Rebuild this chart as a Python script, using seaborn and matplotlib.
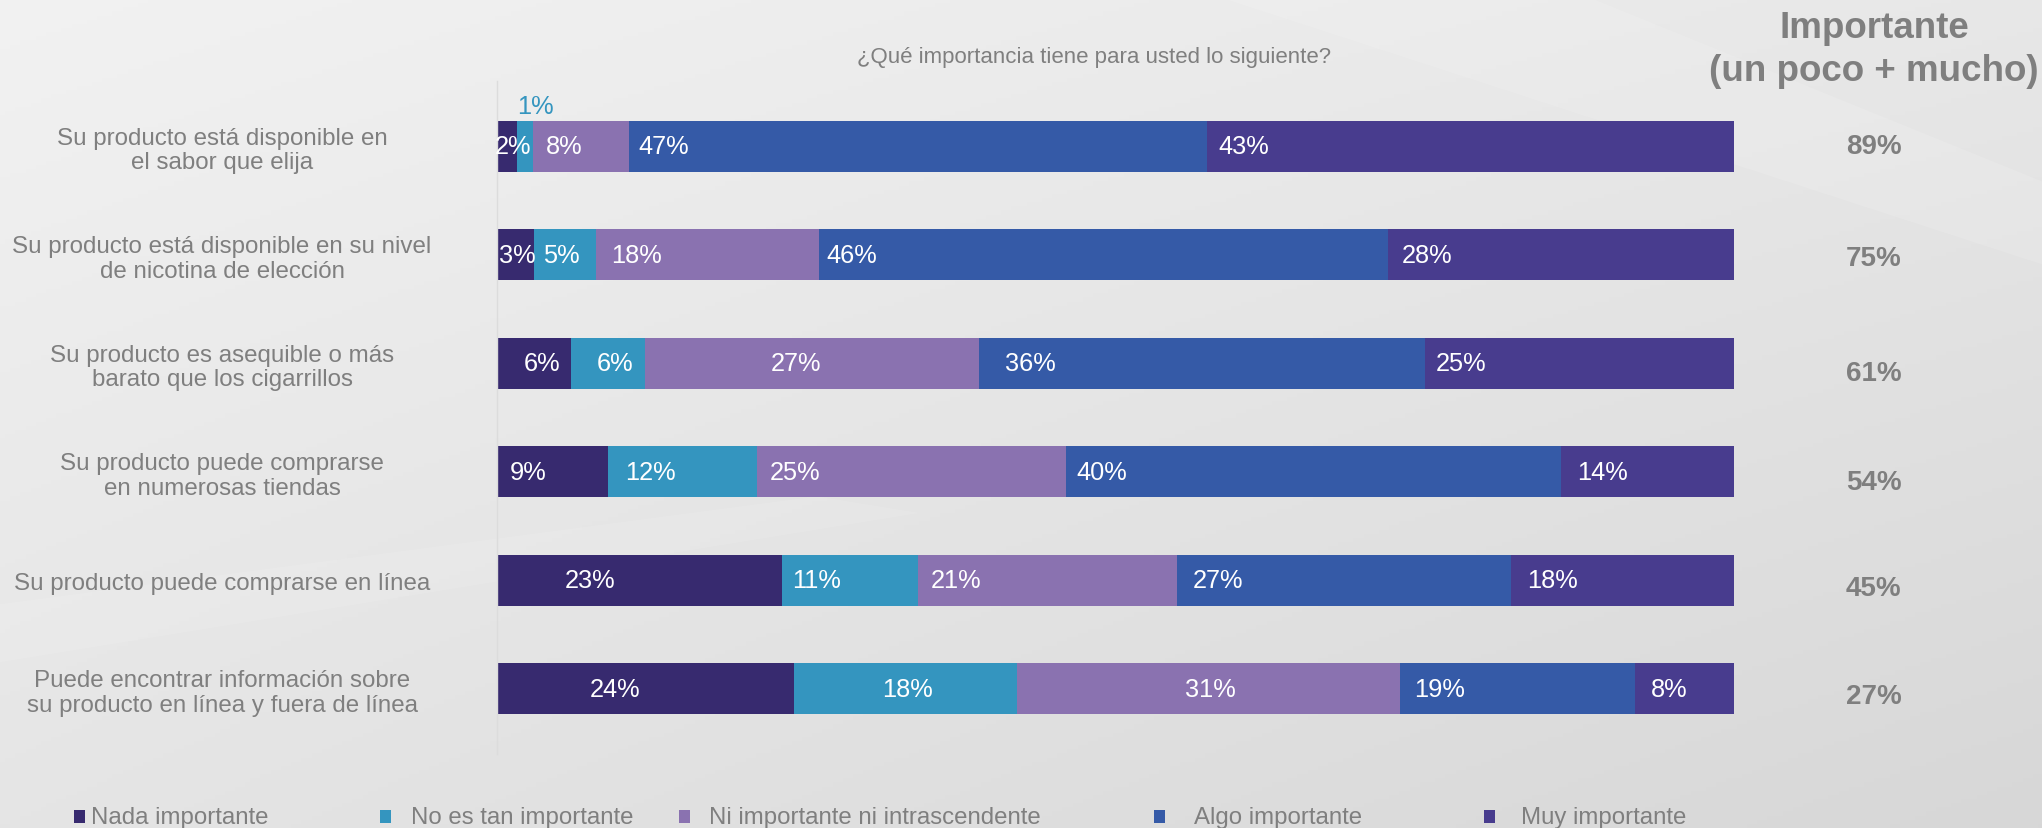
import numpy as np
import pandas as pd
import matplotlib
matplotlib.use("Agg")
import matplotlib.pyplot as plt
from matplotlib.patches import Rectangle, Polygon
import seaborn as sns

# data
categories = [
    "Su producto está disponible en\nel sabor que elija",
    "Su producto está disponible en su nivel\nde nicotina de elección",
    "Su producto es asequible o más\nbarato que los cigarrillos",
    "Su producto puede comprarse\nen numerosas tiendas",
    "Su producto puede comprarse en línea",
    "Puede encontrar información sobre\nsu producto en línea y fuera de línea",
]
levels = ["Nada importante", "No es tan importante",
          "Ni importante ni intrascendente", "Algo importante", "Muy importante"]
nada = [1.6, 3, 6, 9, 23, 24]
no_tan = [1.3, 5, 6, 12, 11, 18]
ni_ni = [7.8, 18, 27, 25, 21, 31]
algo = [46.7, 46, 36, 40, 27, 19]
muy = [42.6, 28, 25, 14, 18, 8]
importante = [89, 75, 61, 54, 45, 27]

colors = {
    "Nada importante": "#372a6f",
    "No es tan importante": "#3495bf",
    "Ni importante ni intrascendente": "#8a72b0",
    "Algo importante": "#355aa7",
    "Muy importante": "#483c8e",
}

# where each in-bar label starts, in % from the segment's left edge
label_pad = [
    [-0.2, None, 1.05, 0.75, 0.95],
    [0.2, 0.75, 1.25, 0.65, 1.15],
    [2.2, 2.1, 10.1, 2.1, 0.85],
    [1.05, 1.35, 1.05, 0.85, 1.35],
    [5.5, 0.85, 1.05, 1.25, 1.25],
    [7.5, 7.1, 13.6, 1.15, 1.25],
]
total_dy = [0.0, 0.03, 0.09, 0.09, 0.07, 0.07]

gray = "#7f7f7f"
W, H = 2042, 829

sns.set_theme(style="white")
plt.rcParams["font.family"] = ["Liberation Sans", "DejaVu Sans"]

fig = plt.figure(figsize=(W / 100, H / 100), dpi=100)

# slide background: soft gray gradient with faint light streaks
bg = fig.add_axes([0, 0, 1, 1])
xx, yy = np.meshgrid(np.linspace(0, 1, 400), np.linspace(0, 1, 200))
v = 0.948 - 0.04 * xx - 0.05 * yy - 0.015 * xx * yy
bg.imshow(np.dstack([v, v, v]), extent=[0, 1, 0, 1], aspect="auto", origin="upper")
bg.add_patch(Polygon([[0.6, 1], [0.78, 1], [1, 0.78], [1, 0.68]], closed=True,
                     color="white", alpha=0.12, lw=0))
bg.add_patch(Polygon([[0.0, 0.2], [0.0, 0.27], [0.4, 0.4], [0.45, 0.38]], closed=True,
                     color="white", alpha=0.1, lw=0))
bg.set_xlim(0, 1)
bg.set_ylim(0, 1)
bg.axis("off")

ax = fig.add_axes([497 / W, 1 - 755 / H, (1734 - 497) / W, (755 - 82) / H])
ax.patch.set_alpha(0)

df = pd.DataFrame({"cat": categories, levels[0]: nada, levels[1]: no_tan,
                   levels[2]: ni_ni, levels[3]: algo, levels[4]: muy})
cum = df[levels].cumsum(axis=1)
cum["cat"] = categories

# stacked bars: draw cumulative totals from the widest down
for lvl in reversed(levels):
    sns.barplot(data=cum, x=lvl, y="cat", color=colors[lvl], orient="h",
                width=0.47, saturation=1, linewidth=0, errorbar=None, ax=ax)

ax.set_xlim(0, 100)
ax.set_ylim(5.6, -0.6)
ax.set_xlabel("")
ax.set_ylabel("")
ax.set_xticks([])
ax.set_yticks(np.arange(len(categories)))
ax.set_yticklabels(categories, ha="center", multialignment="center",
                   fontsize=17.4, color=gray, linespacing=1.15)
ax.tick_params(axis="y", length=0, pad=198)
for s in ["top", "right", "bottom"]:
    ax.spines[s].set_visible(False)
ax.spines["left"].set_color("#dcdcdc")
ax.spines["left"].set_linewidth(1)

# in-bar percentage labels
lefts = df[levels].cumsum(axis=1) - df[levels]
for i in range(len(categories)):
    for j, lvl in enumerate(levels):
        val = df.loc[i, lvl]
        x0 = lefts.loc[i, lvl]
        pad = label_pad[i][j]
        if pad is None:
            ax.text(x0, i - 0.37, f"{val:.0f}%", color=colors[lvl], fontsize=18.3,
                    ha="left", va="center")
        else:
            ax.text(x0 + pad, i, f"{val:.0f}%", color="white", fontsize=18.3,
                    ha="left", va="center", clip_on=False)

# right column totals
for i, t in enumerate(importante):
    ax.text(1.113, i + total_dy[i], f"{t}%", transform=ax.get_yaxis_transform(),
            ha="center", va="center", fontsize=20, fontweight="bold", color=gray,
            clip_on=False)

fig.text(1874 / W, 1 - 50 / H, "Importante\n(un poco + mucho)", ha="center", va="center",
         fontsize=26.5, fontweight="bold", color=gray, linespacing=1.28)
fig.text(1094 / W, 1 - 58 / H, "¿Qué importancia tiene para usted lo siguiente?",
         ha="center", va="center", fontsize=16, color=gray)

# legend along the bottom edge
leg_sq = [74, 380, 679, 1154, 1484]
leg_tx = [91, 411, 709, 1194, 1521]
for lvl, sx, tx in zip(levels, leg_sq, leg_tx):
    fig.add_artist(Rectangle((sx / W, 1 - 824 / H), 11 / W, 13 / H,
                             transform=fig.transFigure, color=colors[lvl], lw=0))
    fig.text(tx / W, 1 - 818 / H, lvl, ha="left", va="center", fontsize=17.3, color=gray)

fig.savefig("out.png", dpi=100)
